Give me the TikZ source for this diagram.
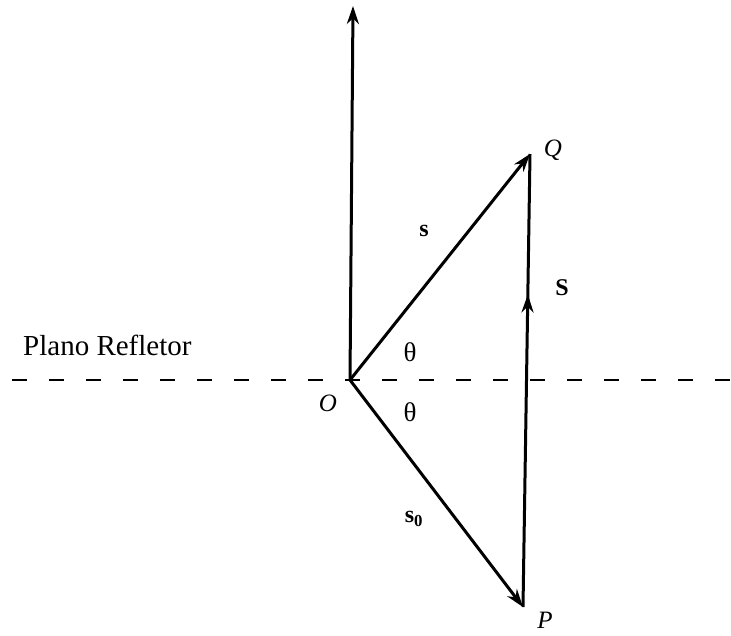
\documentclass[tikz,border=0pt]{standalone}
\usepackage{fontspec}
\setmainfont{Liberation Serif}
\usetikzlibrary{arrows.meta,decorations.markings}
\begin{document}
\begin{tikzpicture}[x=1pt,y=-1pt,
  vec/.style={line width=3pt,-{Stealth[length=18pt,width=12pt]}},
  lbl/.style={inner sep=0pt,font=\fontsize{25}{30}\selectfont},
  midarrow/.style={decoration={markings,mark=at position #1 with {\arrow{Stealth[length=18pt,width=12pt]}}},postaction={decorate}}]
\useasboundingbox (0,0) rectangle (731,635);
\coordinate (O) at (350,380);
\coordinate (T) at (353,6);
\coordinate (Q) at (530,154);
\coordinate (P) at (523,607);
\coordinate (L) at (0,380);
\coordinate (R) at (731,380);
% plane
\draw[line width=2.4pt,dash pattern=on 15pt off 22pt,dash phase=-12pt] (L) -- (R);
\node[anchor=base west,inner sep=0pt,font=\fontsize{29}{34}\selectfont] (plano) at (23,355) {Plano Refletor};
% vectors
\draw[vec] (O) -- (T);
\draw[vec] (O) -- (Q);
\draw[vec] (O) -- (P);
\draw[line width=3pt,midarrow=0.69] (P) -- (Q);
% labels
\node[lbl] (lO) at (328,403) {\itshape O};
\node[lbl] (lQ) at (553,150) {\itshape Q};
\node[lbl] (lP) at (545,620) {\itshape P};
\node[lbl,font=\fontsize{27}{30}\selectfont] (t1) at (410,352) {θ};
\node[lbl,font=\fontsize{27}{30}\selectfont] (t2) at (410,412) {θ};
\node[lbl,font=\fontsize{24}{28}\selectfont\bfseries] (ls) at (424,231) {s};
\node[lbl,font=\fontsize{24}{28}\selectfont\bfseries] (ls0) at (414,519) {s\textsubscript{0}};
\node[lbl,font=\fontsize{24}{28}\selectfont\bfseries] (lS) at (562,288) {S};
\end{tikzpicture}
\end{document}
